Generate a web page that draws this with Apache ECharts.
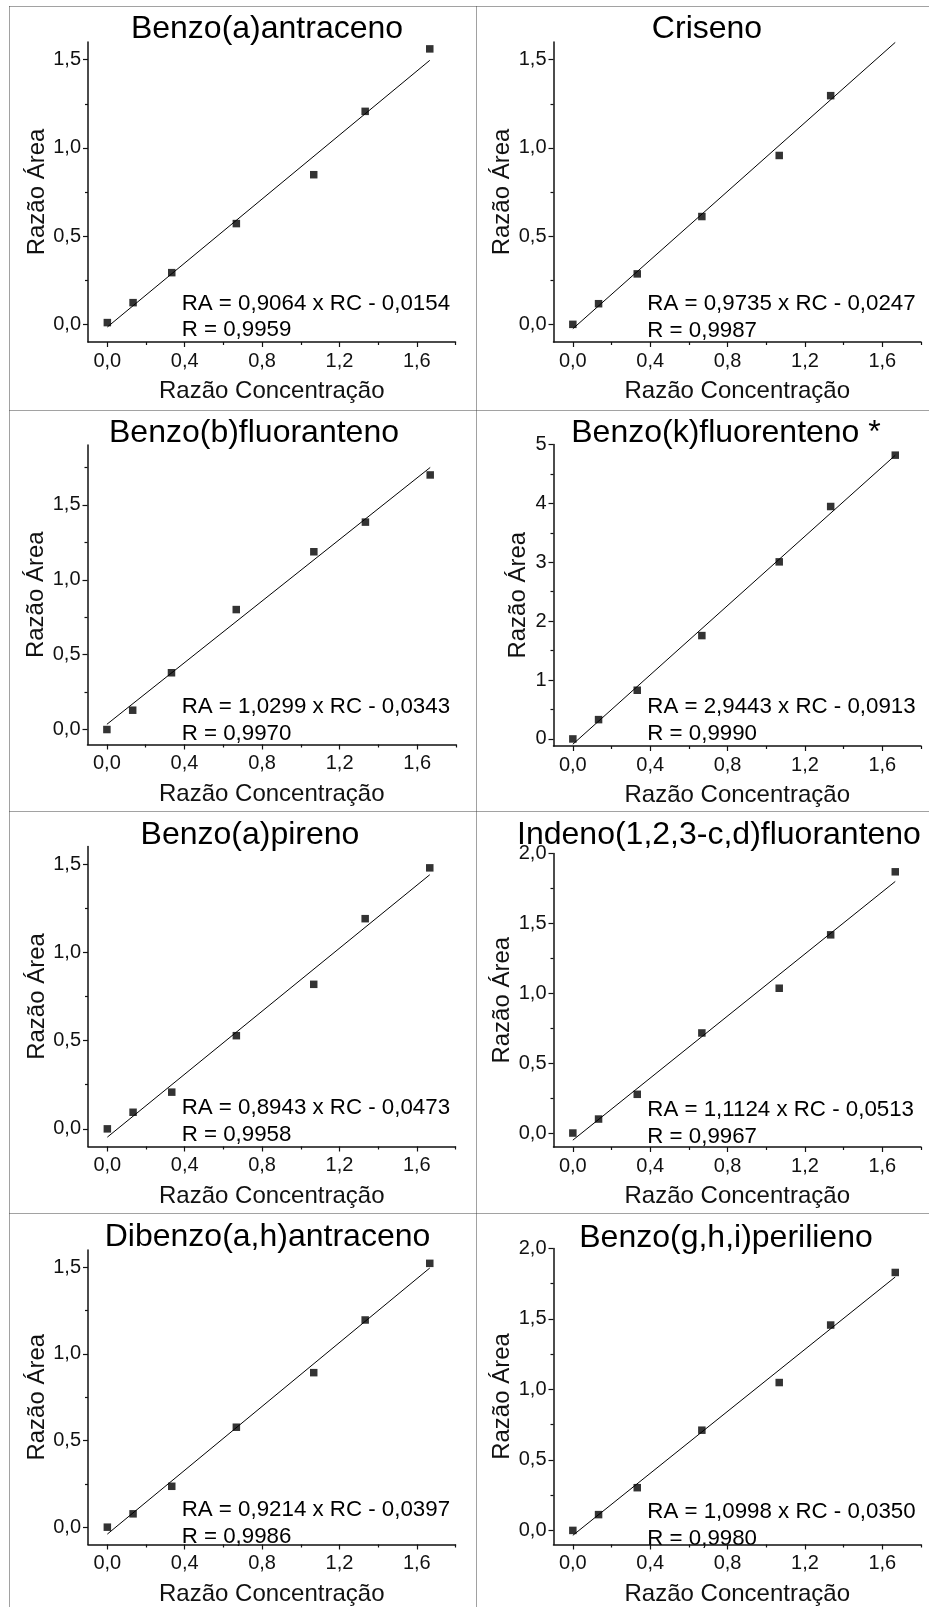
<!DOCTYPE html>
<html>
<head>
<meta charset="utf-8">
<script src="https://cdn.jsdelivr.net/npm/echarts@6/dist/echarts.min.js"></script>
<style>
html,body{margin:0;padding:0;background:#fff;}
#c{width:929px;height:1607px;}
</style>
</head>
<body>
<div id="c"></div>
<script>
// ---------- data ----------
const titles = ['Benzo(a)antraceno', 'Criseno', 'Benzo(b)fluoranteno', 'Benzo(k)fluorenteno *',
  'Benzo(a)pireno', 'Indeno(1,2,3-c,d)fluoranteno', 'Dibenzo(a,h)antraceno', 'Benzo(g,h,i)perilieno'];
const xValues = [0, 0.133, 0.333, 0.667, 1.067, 1.333, 1.667];
const benzoAAntraceno = [0.01, 0.123, 0.293, 0.571, 0.848, 1.207, 1.561];
const criseno = [0, 0.117, 0.286, 0.611, 0.957, 1.296];
const benzoBFluoranteno = [0, 0.129, 0.379, 0.801, 1.187, 1.385, 1.700];
const benzoKFluorenteno = [0, 0.328, 0.827, 1.755, 3.007, 3.947, 4.819];
const benzoAPireno = [0, 0.094, 0.208, 0.528, 0.819, 1.191, 1.479];
const indeno = [0, 0.100, 0.277, 0.716, 1.036, 1.418, 1.869];
const dibenzoAH = [0, 0.077, 0.236, 0.577, 0.892, 1.196, 1.523];
const benzoGHI = [0, 0.112, 0.303, 0.711, 1.049, 1.457, 1.830];
const seriesValues = [benzoAAntraceno, criseno, benzoBFluoranteno, benzoKFluorenteno,
  benzoAPireno, indeno, dibenzoAH, benzoGHI];

// fitted line end points
const fitX = [0, 1.667];
const fitStartY = [-0.015, -0.025, 0.035, -0.09, -0.047, -0.051, -0.04, -0.035];
const fitEndY = [1.496, 1.598, 1.75, 4.817, 1.44, 1.80, 1.496, 1.798];

const equations = ['RA = 0,9064 x RC - 0,0154', 'RA = 0,9735 x RC - 0,0247', 'RA = 1,0299 x RC - 0,0343',
  'RA = 2,9443 x RC - 0,0913', 'RA = 0,8943 x RC - 0,0473', 'RA = 1,1124 x RC - 0,0513',
  'RA = 0,9214 x RC - 0,0397', 'RA = 1,0998 x RC - 0,0350'];
const rTexts = ['R = 0,9959', 'R = 0,9987', 'R = 0,9970', 'R = 0,9990', 'R = 0,9958', 'R = 0,9967',
  'R = 0,9986', 'R = 0,9980'];

const xMin = -0.1, xMax = 1.8;
const xMajorTicks = [0, 0.4, 0.8, 1.2, 1.6];
const xMinorTicks = [0.2, 0.6, 1.0, 1.4, 1.8];
const yMin = [-0.1, -0.1, -0.1, -0.12, -0.1, -0.1, -0.1, -0.1];
const yMax = [1.6, 1.6, 1.9, 5, 1.6, 2.0, 1.6, 2.0];
const yMajorTicks = [
  [0, 0.5, 1.0, 1.5], [0, 0.5, 1.0, 1.5], [0, 0.5, 1.0, 1.5], [0, 1, 2, 3, 4, 5],
  [0, 0.5, 1.0, 1.5], [0, 0.5, 1.0, 1.5, 2.0], [0, 0.5, 1.0, 1.5], [0, 0.5, 1.0, 1.5, 2.0]];
const yMinorTicks = [
  [0.25, 0.75, 1.25], [0.25, 0.75, 1.25], [0.25, 0.75, 1.25, 1.75], [0.5, 1.5, 2.5, 3.5, 4.5],
  [0.25, 0.75, 1.25], [0.25, 0.75, 1.25, 1.75], [0.25, 0.75, 1.25], [0.25, 0.75, 1.25, 1.75]];
const integerLabels = [false, false, false, true, false, false, false, false];
const xName = 'Razão Concentração';
const yName = 'Razão Área';

// ---------- layout ----------
const FONT = '"Liberation Sans", Arial, sans-serif';
const gridBoxes = [
  {left: 88, top: 42, width: 367.5, height: 300},
  {left: 553.5, top: 42, width: 367.5, height: 300},
  {left: 87.5, top: 445, width: 368.5, height: 299.5},
  {left: 553.5, top: 444.5, width: 367.5, height: 301.5},
  {left: 88, top: 846.5, width: 367.5, height: 300},
  {left: 553.5, top: 853.5, width: 367.5, height: 293.5},
  {left: 88, top: 1250, width: 367.5, height: 299},
  {left: 553.5, top: 1248.5, width: 367.5, height: 300.5}
];
const titlePos = [[267, 29], [707, 29.5], [254, 433], [726, 433], [250, 835], [719, 835], [267.5, 1237.5], [726, 1238.5]];
const eqPos = [[181.7, 303.5], [647.3, 304], [181.7, 706.6], [647.3, 706.6], [181.7, 1108.2], [647.3, 1110], [181.7, 1510], [647.3, 1511.6]];
const eqGap = 26.8;
const yNameGap = [36.5, 36.5, 37, 23, 36.5, 36, 36.5, 36];

const axisColor = '#111';
const grids = [], xAxes = [], yAxes = [], series = [], graphics = [];

function fmt(i) {
  return function (v) {
    if (integerLabels[i]) return String(Math.round(v));
    return v.toFixed(1).replace('.', ',');
  };
}

for (let i = 0; i < 8; i++) {
  grids.push(Object.assign({containLabel: false}, gridBoxes[i]));
  // main x axis
  xAxes.push({
    type: 'value', gridIndex: i, min: xMin, max: xMax, position: 'bottom',
    axisLine: {show: true, onZero: false, lineStyle: {color: axisColor, width: 1.5}},
    axisTick: {show: true, inside: false, length: 5, customValues: xMajorTicks, lineStyle: {color: axisColor, width: 1.2}},
    axisLabel: {show: true, customValues: xMajorTicks, formatter: fmt(0), margin: 9, fontSize: 20, color: '#111', fontFamily: FONT},
    splitLine: {show: false},
    name: xName, nameLocation: 'middle', nameGap: 37.5,
    nameTextStyle: {fontSize: 24, color: '#111', fontFamily: FONT}
  });
  // minor x ticks
  xAxes.push({
    type: 'value', gridIndex: i, min: xMin, max: xMax, position: 'bottom',
    axisLine: {show: false, onZero: false},
    axisTick: {show: true, inside: false, length: 3, customValues: xMinorTicks, lineStyle: {color: axisColor, width: 1.2}},
    axisLabel: {show: false}, splitLine: {show: false}
  });
  yAxes.push({
    type: 'value', gridIndex: i, min: yMin[i], max: yMax[i], position: 'left',
    axisLine: {show: true, onZero: false, lineStyle: {color: axisColor, width: 1.5}},
    axisTick: {show: true, inside: false, length: 5, customValues: yMajorTicks[i], lineStyle: {color: axisColor, width: 1.2}},
    axisLabel: {show: true, customValues: yMajorTicks[i], formatter: fmt(i), margin: 7, fontSize: 20, color: '#111', fontFamily: FONT},
    splitLine: {show: false},
    name: yName, nameLocation: 'middle', nameGap: yNameGap[i],
    nameTextStyle: {fontSize: 24, color: '#111', fontFamily: FONT}
  });
  yAxes.push({
    type: 'value', gridIndex: i, min: yMin[i], max: yMax[i], position: 'left',
    axisLine: {show: false, onZero: false},
    axisTick: {show: true, inside: false, length: 3, customValues: yMinorTicks[i], lineStyle: {color: axisColor, width: 1.2}},
    axisLabel: {show: false}, splitLine: {show: false}
  });
  const pts = seriesValues[i].map((v, k) => [xValues[k], v]);
  series.push({
    type: 'line', xAxisIndex: 2 * i, yAxisIndex: 2 * i,
    data: [[fitX[0], fitStartY[i]], [fitX[1], fitEndY[i]]],
    showSymbol: false, symbol: 'none', silent: true, animation: false,
    lineStyle: {color: '#000', width: 1}, z: 2
  });
  series.push({
    type: 'scatter', xAxisIndex: 2 * i, yAxisIndex: 2 * i,
    data: pts, symbol: 'rect', symbolSize: 7.5, animation: false,
    itemStyle: {color: '#000'}, z: 3
  });
  graphics.push({
    type: 'text', x: titlePos[i][0], y: titlePos[i][1],
    style: {text: titles[i], font: '32px ' + FONT, fill: '#000', align: 'center', verticalAlign: 'middle'}
  });
  graphics.push({
    type: 'text', x: eqPos[i][0], y: eqPos[i][1],
    style: {text: equations[i], font: '22.3px ' + FONT, fill: '#000', align: 'left', verticalAlign: 'middle'}
  });
  graphics.push({
    type: 'text', x: eqPos[i][0], y: eqPos[i][1] + eqGap,
    style: {text: rTexts[i], font: '22.3px ' + FONT, fill: '#000', align: 'left', verticalAlign: 'middle'}
  });
}

// dotted frame
const dot = {stroke: '#444', lineWidth: 1, lineDash: [1, 1]};
const frameLines = [
  [9.5, 6.5, 929, 6.5], [9.5, 6.5, 9.5, 1607], [476.5, 6.5, 476.5, 1607],
  [9.5, 410.5, 929, 410.5], [9.5, 811.5, 929, 811.5], [9.5, 1213.5, 929, 1213.5]
];
frameLines.forEach(l => graphics.push({
  type: 'line', shape: {x1: l[0], y1: l[1], x2: l[2], y2: l[3]}, style: dot, silent: true
}));

const chart = echarts.init(document.getElementById('c'), null, {renderer: 'canvas'});
chart.setOption({
  animation: false,
  backgroundColor: '#fff',
  grid: grids, xAxis: xAxes, yAxis: yAxes, series: series,
  graphic: graphics
});
</script>
</body>
</html>
